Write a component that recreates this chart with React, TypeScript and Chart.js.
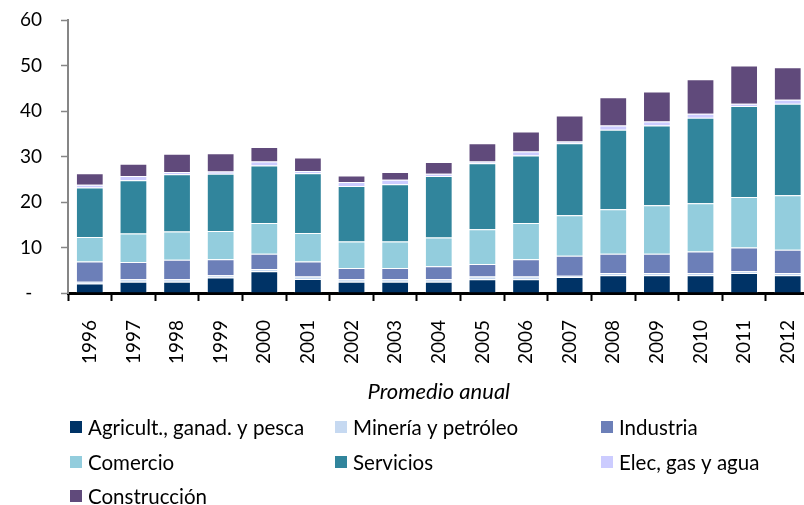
import React, { useEffect, useRef } from 'react';
import { Chart, registerables } from 'chart.js';

Chart.register(...registerables);

const years = ['1996', '1997', '1998', '1999', '2000', '2001', '2002', '2003', '2004', '2005', '2006', '2007', '2008', '2009', '2010', '2011', '2012'];

const agricultura = [2.1, 2.5, 2.5, 3.4, 4.8, 3.1, 2.5, 2.5, 2.5, 3.0, 3.0, 3.5, 3.9, 3.9, 3.9, 4.4, 3.9];
const mineria = [0.4, 0.5, 0.5, 0.5, 0.5, 0.5, 0.5, 0.5, 0.5, 0.6, 0.6, 0.3, 0.5, 0.5, 0.5, 0.4, 0.5];
const industria = [4.4, 3.8, 4.3, 3.5, 3.3, 3.3, 2.5, 2.5, 2.9, 2.8, 3.8, 4.4, 4.2, 4.2, 4.7, 5.2, 5.1];
const comercio = [5.4, 6.3, 6.2, 6.2, 6.8, 6.3, 5.8, 5.8, 6.3, 7.6, 8.0, 8.9, 9.8, 10.7, 10.6, 11.1, 12.0];
const servicios = [10.9, 11.7, 12.6, 12.6, 12.6, 13.1, 12.2, 12.6, 13.5, 14.5, 14.8, 15.8, 17.5, 17.5, 18.8, 20.0, 20.1];
const elec = [0.6, 0.9, 0.5, 0.5, 0.9, 0.5, 0.9, 1.0, 0.5, 0.4, 0.9, 0.4, 0.9, 0.9, 0.9, 0.5, 0.9];
const construccion = [2.5, 2.7, 4.0, 4.0, 3.2, 3.0, 1.4, 1.7, 2.6, 4.0, 4.4, 5.7, 6.2, 6.6, 7.6, 8.4, 7.1];

const seriesNames = ['Agricult., ganad. y pesca', 'Minería y petróleo', 'Industria', 'Comercio', 'Servicios', 'Elec, gas y agua', 'Construcción'];
const seriesColors = ['#003366', '#C6D9F1', '#6C7FB8', '#93CDDD', '#31859C', '#CCCCFF', '#604A7B'];
const seriesValues = [agricultura, mineria, industria, comercio, servicios, elec, construccion];

const axisTitle = 'Promedio anual';
const FONT = 'Lato';

const legendPlugin = {
  id: 'gridLegend',
  afterDraw(chart: any) {
    const ctx = chart.ctx;
    const cols = [70, 335, 601];
    const rows = [427, 462, 496];
    ctx.save();
    ctx.font = `20.5px ${FONT}`;
    ctx.textBaseline = 'middle';
    ctx.textAlign = 'left';
    chart.data.datasets.forEach((ds: any, i: number) => {
      const x = cols[i % 3];
      const y = rows[Math.floor(i / 3)];
      ctx.fillStyle = ds.backgroundColor;
      ctx.fillRect(x, y - 6, 12, 12);
      ctx.fillStyle = '#000000';
      ctx.fillText(ds.label, x + 18, y + 1);
    });
    ctx.restore();
  },
};

export default function App() {
  const ref = useRef<HTMLCanvasElement | null>(null);
  useEffect(() => {
    if (!ref.current) return;
    const chart = new Chart(ref.current, {
      type: 'bar',
      data: {
        labels: years,
        datasets: seriesNames.map((name, i) => ({
          label: name,
          data: seriesValues[i],
          backgroundColor: seriesColors[i],
          borderColor: 'rgba(255,255,255,0.45)',
          borderWidth: 1,
          barPercentage: 0.636,
          categoryPercentage: 1.0,
        })),
      },
      options: {
        responsive: false,
        animation: false,
        devicePixelRatio: 1,
        layout: { padding: { left: 0, right: 15, top: 20, bottom: 104 } },
        plugins: {
          legend: { display: false },
          tooltip: { enabled: false },
        },
        scales: {
          x: {
            stacked: true,
            afterFit: (scale: any) => { scale.height = 108; },
            grid: {
              display: true,
              drawOnChartArea: false,
              drawTicks: true,
              tickLength: 8,
              tickWidth: 2,
              tickColor: '#000000',
              offset: true,
            },
            border: { display: true, color: '#000000', width: 3 },
            ticks: {
              minRotation: 90,
              maxRotation: 90,
              padding: 19,
              color: '#000000',
              font: { family: FONT, size: 19 },
            },
            title: {
              display: true,
              text: axisTitle,
              color: '#000000',
              padding: { top: 0, bottom: -4 },
              font: { family: FONT, size: 22, style: 'italic' },
            },
          },
          y: {
            stacked: true,
            min: 0,
            max: 60,
            afterFit: (scale: any) => {
              scale.width = 68;
              scale.paddingTop = 0;
              scale.paddingBottom = 0;
            },
            grid: {
              display: true,
              drawOnChartArea: false,
              drawTicks: true,
              tickLength: 7,
              tickWidth: 1.5,
              tickColor: '#868686',
            },
            border: { display: true, color: '#868686', width: 2 },
            ticks: {
              stepSize: 10,
              padding: 19,
              color: '#000000',
              font: { family: FONT, size: 19 },
              callback: (v: any) => (Number(v) === 0 ? '-  ' : String(v)),
            },
          },
        },
      },
      plugins: [legendPlugin],
    });
    return () => chart.destroy();
  }, []);
  return (
    <div style={{ position: 'fixed', left: 0, top: 0, width: 804, height: 505, overflow: 'hidden', background: '#ffffff' }}>
      <canvas ref={ref} width={830} height={505} style={{ width: 830, height: 505, display: 'block' }} />
    </div>
  );
}
